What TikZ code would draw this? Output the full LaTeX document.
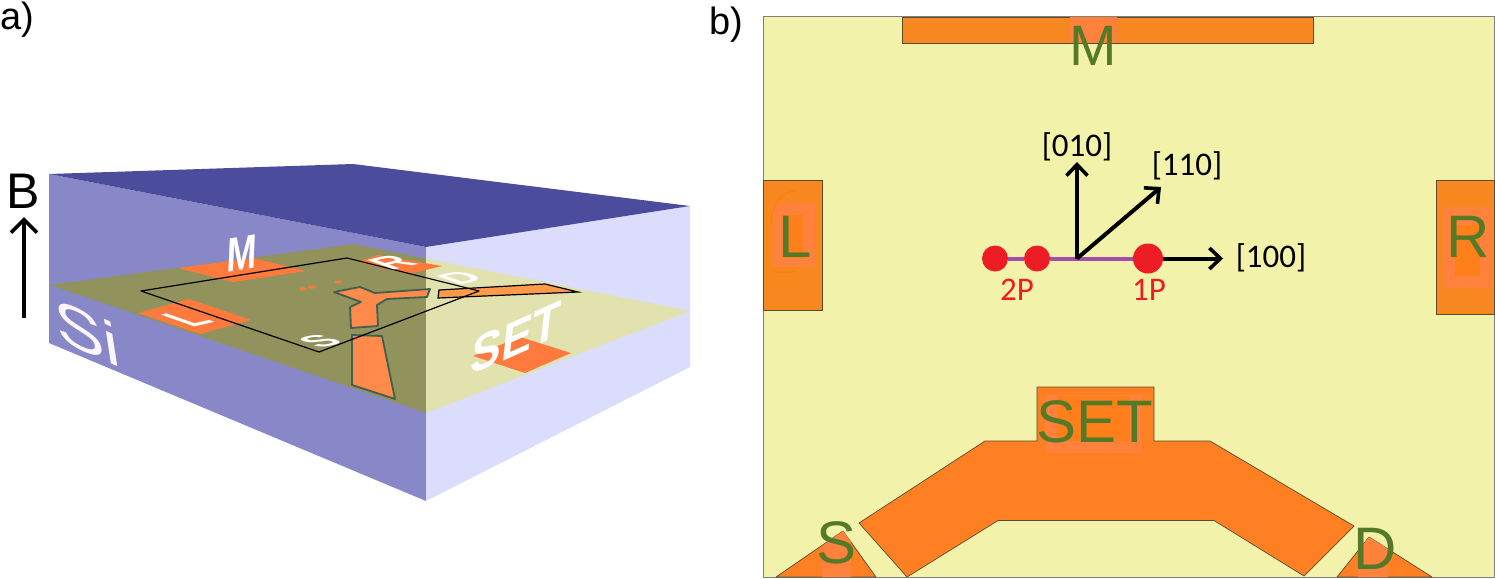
\documentclass[tikz,border=0pt]{standalone}
\usepackage{fontspec}
\setmainfont{Liberation Sans}
\newfontfamily\calib{Carlito}
\usetikzlibrary{arrows.meta}
\definecolor{wallL}{HTML}{8888C8}
\definecolor{wallR}{HTML}{DCDCFC}
\definecolor{topF}{HTML}{4C4C9D}
\definecolor{planeD}{HTML}{92925C}
\definecolor{planeL}{HTML}{E2E2AE}
\definecolor{padA}{HTML}{FF7A3C}
\definecolor{leadA}{HTML}{FF8A4A}
\definecolor{leadB}{HTML}{FF9A4A}
\definecolor{leadO}{HTML}{3F5F4F}
\definecolor{chip}{HTML}{F2F2AA}
\definecolor{padB}{HTML}{F7881F}
\definecolor{bodyB}{HTML}{FF8022}
\definecolor{halo}{HTML}{FF823C}
\definecolor{core}{HTML}{FF7F1A}
\definecolor{grn}{HTML}{547A28}
\definecolor{redd}{HTML}{EE1C25}
\definecolor{purp}{HTML}{A64CA6}
\definecolor{edgeB}{HTML}{5E4A2C}
\newcommand\sz[1]{\fontsize{#1}{#1}\selectfont}
\tikzset{
  pad3d/.style={fill=padA,draw=none},
  lead3d/.style={fill=leadA,draw=leadO,line width=1.8pt,line join=round},
  wlabel/.style={text=white,inner sep=0pt,transform shape},
  glabel/.style={text=grn,inner sep=0pt,anchor=base},
  padb/.style={fill=padB,draw=edgeB,line width=.7pt},
  haloB/.style={fill=halo,draw=none},
  coreB/.style={fill=core,draw=none},
  axis/.style={line width=4pt,-{Straight Barb[length=11pt,width=21pt,line width=3.6pt]}},
  axlabel/.style={inner sep=0pt,anchor=base,font=\calib\sz{33}},
  rlabel/.style={inner sep=0pt,anchor=base,text=redd,font=\calib\sz{33}},
  dot/.style={circle,fill=redd,inner sep=0pt},
}
\begin{document}
\begin{tikzpicture}[x=1pt,y=-1pt]
\useasboundingbox (0,0) rectangle (1495,578);
% --- a) block
\fill[wallL] (49,174) -- (426,247) -- (426,501) -- (49,343) -- cycle;
\fill[wallR] (426,247) -- (690,206) -- (690,367) -- (426,501) -- cycle;
\fill[topF] (49,174) -- (353,164) -- (690,206) -- (426,247) -- cycle;
\fill[planeD] (50,285) -- (353,244) -- (426,258.5) -- (426,413) -- cycle;
\fill[planeL] (426,258.5) -- (690,311) -- (426,413) -- cycle;
% pads
\fill[pad3d] (178,268) -- (253,258) -- (306,271) -- (233,282) -- cycle;
\fill[pad3d] (138,313) -- (189,299) -- (251,320) -- (200,334) -- cycle;
\fill[pad3d] (358,262) -- (378,255) -- (442,266) -- (409,274) -- cycle;
\fill[pad3d] (473,356) -- (520,337) -- (571,353) -- (525,373) -- cycle;
% dots
\fill[padA] (303,289) ellipse[x radius=4,y radius=1.6];
\fill[padA] (312,287) ellipse[x radius=4,y radius=1.6];
\fill[padA] (338,282) ellipse[x radius=3.5,y radius=1.5];
% leads
\draw[lead3d] (334,292) -- (360,287) -- (375,293) -- (430,289) -- (427,297) -- (387,299) -- (377,305) -- (378,326) -- (351,328) -- (350,307) -- (361,302) -- cycle;
\draw[lead3d] (352,335) -- (382,336) -- (395,399) -- (352,385) -- cycle;
\draw[fill=leadB,draw=black,line width=1.2pt] (439,290) -- (545,284) -- (578,292) -- (438,298) -- cycle;
% outline of the chip
\draw[black,line width=1.2pt,line join=round] (141,291) -- (347,258) -- (479,291) -- (319,352) -- cycle;
% white perspective letters
\node[wlabel,cm={1.3,-0.6,-0.17,1.1,(0,0)},text=white!95!purp] (tSi) at (87,332) {\sz{56}Si};
\node[wlabel,cm={.85,.14,.05,1.15,(0,0)}] (tM) at (242,253) {\sz{42}\bfseries M};
\node[wlabel,cm={1.3,.3,-1.63,.57,(0,0)}] (tL) at (187,319) {\sz{30}\bfseries L};
\node[wlabel,cm={1.3,.3,-1.2,.42,(0,0)}] (tS) at (320,341) {\sz{30}\bfseries S};
\node[wlabel,cm={1.3,.3,-1.3,.46,(0,0)}] (tR) at (392,262) {\sz{30}\bfseries R};
\node[wlabel,cm={1.3,.3,-1.2,.42,(0,0)}] (tD) at (460,278) {\sz{30}\bfseries D};
\node[wlabel,cm={1.08,.48,.14,1.25,(0,0)}] (tSET) at (516,338) {\sz{42}\bfseries SET};
% B arrow
\node[inner sep=0pt,anchor=base] (tB) at (23,208) {\sz{50}B};
\coordinate (b0) at (24,318);
\coordinate (b1) at (24,217);
\draw[line width=4pt,-{Straight Barb[length=13pt,width=26pt,line width=3.6pt]}] (b0) -- (b1);
\node[inner sep=0pt,anchor=base west] (ta) at (0,30) {\sz{38}a)};
\node[inner sep=0pt,anchor=base west] (tb) at (709,35) {\sz{38}b)};
% --- b) chip
\draw[fill=chip,draw=black!50,line width=1pt] (763,17) rectangle (1494,577);
\draw[padb] (902,17) rectangle (1313,43);
\fill[haloB] (1070,17) rectangle (1117,43);
\draw[padb] (763,180) rectangle (822,310);
\fill[haloB] (773,203) rectangle (815,267);
\fill[coreB] (783,215) rectangle (803,258);
\draw[draw=orange,line width=1pt] (771,225) .. controls (772,205) and (780,192) .. (795,191);
\draw[draw=orange,line width=1pt] (772,271) .. controls (778,273) and (788,273) .. (795,271);
\draw[padb] (1436,180) rectangle (1494,314);
\fill[haloB] (1443,207) rectangle (1492,288);
\fill[coreB] (1455,225) rectangle (1480,276);
\draw[fill=bodyB,draw=edgeB,line width=.7pt,line join=round] (1037,387) -- (1154,387) -- (1154,441) -- (1210,441) -- (1354,526) -- (1304,576) -- (1214,520.5) -- (998,520.5) -- (907,577) -- (859,523) -- (985,441) -- (1037,441) -- cycle;
\fill[haloB] (1045,395) rectangle (1142,453);
\fill[coreB] (1057,396) rectangle (1130,441);
\draw[fill=bodyB,draw=edgeB,line width=.7pt,line join=round] (776,577) -- (843,531) -- (876,577) -- cycle;
\fill[haloB] (822,546) -- (843,531) -- (851,542) -- (851,577) -- (822,577) -- cycle;
\draw[fill=bodyB,draw=edgeB,line width=.7pt,line join=round] (1337,577) -- (1369,537) -- (1432,577) -- cycle;
\fill[haloB] (1358,551) -- (1369,537) -- (1388,549) -- (1388,577) -- (1358,577) -- cycle;
% green labels
\node[glabel] (gM) at (1093,66) {\sz{57}M};
\node[glabel] (gL) at (795,257) {\sz{60}L};
\node[glabel] (gR) at (1468,257) {\sz{60}R};
\node[glabel] (gSET) at (1095,442) {\sz{60}SET};
\node[glabel] (gS) at (836,563) {\sz{60}S};
\node[glabel] (gD) at (1375,569) {\sz{60}D};
% axes
\node[dot,minimum size=26pt] (p2a) at (995,258.5) {};
\node[dot,minimum size=26pt] (p2b) at (1037,258.5) {};
\node[dot,minimum size=30pt] (p1) at (1148,258.5) {};
\coordinate (o) at (1077,258.5);
\coordinate (t010) at (1077,162);
\coordinate (t110) at (1161,187);
\coordinate (t100) at (1223,258.5);
\draw[purp,line width=4pt] (p2a) -- (p2b);
\draw[purp,line width=4pt] (p2b) -- (p1);
\draw[axis] (o) -- (t010);
\draw[axis] (o) -- (t110);
\draw[axis] (p1) -- (t100);
\node[axlabel] (l010) at (1077,156) {[010]};
\node[axlabel] (l110) at (1187,175) {[110]};
\node[axlabel] (l100) at (1271,267) {[100]};
\node[rlabel] (l2P) at (1017,300) {2P};
\node[rlabel] (l1P) at (1149,300) {1P};
\end{tikzpicture}
\end{document}
